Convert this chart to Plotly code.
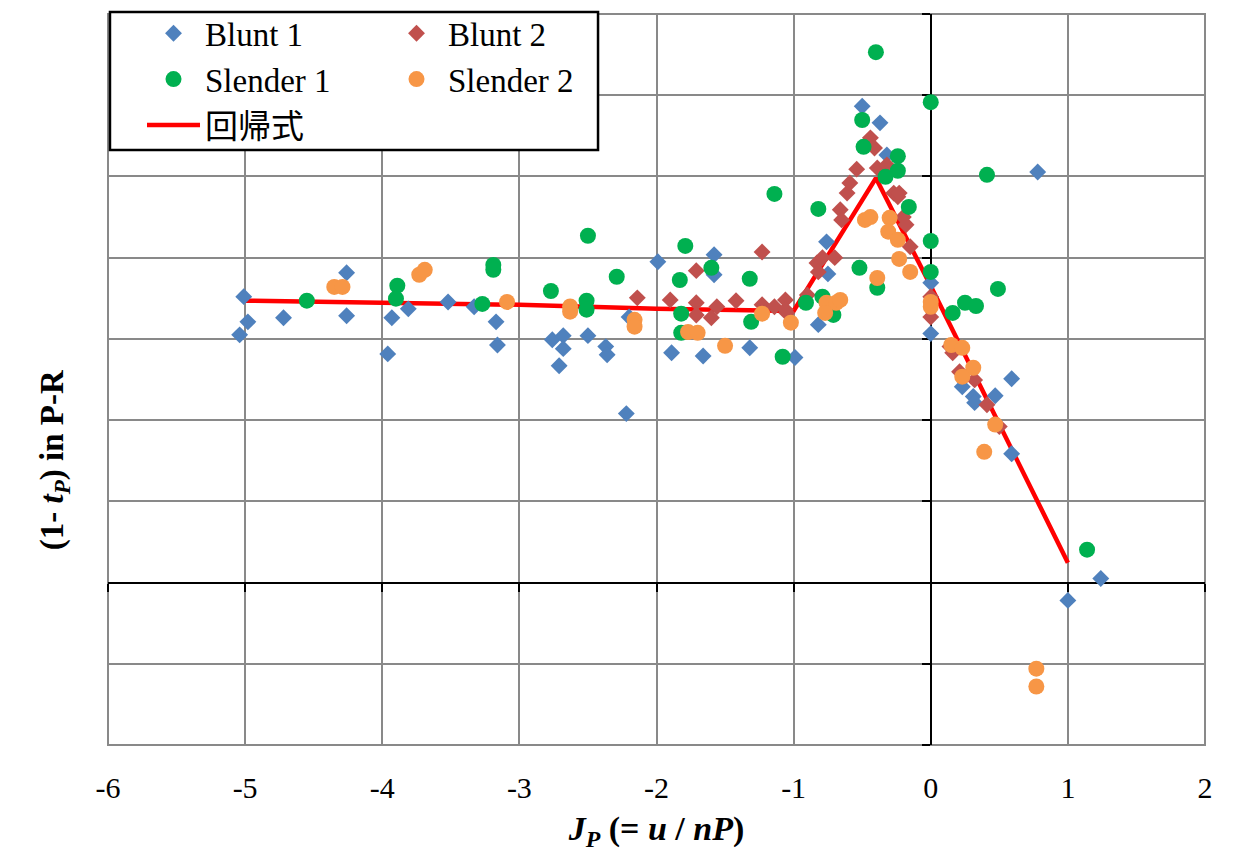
import plotly.graph_objects as go

# ---------------- data ----------------
blunt1_x = [-5.04, -5.01, -4.98, -4.72, -4.26, -4.26, -3.96, -3.93, -3.81, -3.52, -3.33, -3.17, -3.16,
            -2.76, -2.68, -2.71, -2.68, -2.50, -2.37, -2.36, -2.22, -2.20, -1.99, -1.89, -1.66, -1.58,
            -1.58, -1.32, -0.99, -0.82, -0.76, -0.75, -0.50, -0.37, -0.32, 0.00, 0.00, 0.23, 0.31,
            0.32, 0.47, 0.59, 0.59, 0.78, 1.00, 1.24]
blunt1_y = [0.610, 0.704, 0.642, 0.652, 0.763, 0.657, 0.563, 0.652, 0.674, 0.691, 0.679, 0.642, 0.585,
            0.598, 0.608, 0.534, 0.576, 0.608, 0.581, 0.561, 0.416, 0.654, 0.790, 0.566, 0.558, 0.807,
            0.758, 0.578, 0.554, 0.635, 0.839, 0.760, 1.173, 1.132, 1.053, 0.738, 0.613, 0.482, 0.458,
            0.443, 0.460, 0.502, 0.317, 1.011, -0.044, 0.010]

blunt2_x = [-2.14, -1.90, -1.71, -1.71, -1.71, -1.60, -1.56, -1.42, -1.23, -1.23, -1.14, -1.06, -1.05,
            -1.06, -0.90, -0.83, -0.79, -0.70, -0.82, -0.66, -0.65, -0.61, -0.59, -0.54, -0.44, -0.41,
            -0.39, -0.32, -0.27, -0.24, -0.23, -0.20, -0.18, -0.15, 0.00, 0.00, 0.14, 0.16, 0.21, 0.32,
            0.41, 0.50]
blunt2_y = [0.701, 0.696, 0.768, 0.689, 0.659, 0.652, 0.679, 0.694, 0.814, 0.684, 0.679, 0.696, 0.664,
            0.672, 0.708, 0.787, 0.800, 0.800, 0.765, 0.918, 0.893, 0.959, 0.984, 1.018, 1.095, 1.070,
            1.021, 1.028, 0.959, 0.950, 0.959, 0.900, 0.881, 0.827, 0.704, 0.654, 0.581, 0.566, 0.519,
            0.499, 0.438, 0.384]

slender1_x = [-4.55, -3.89, -3.90, -3.19, -3.19, -3.27, -2.77, -2.50, -2.51, -2.51, -2.29, -1.79, -1.83,
              -1.82, -1.82, -1.60, -1.32, -1.31, -1.14, -1.08, -0.91, -0.82, -0.79, -0.71, -0.40, 0.00,
              -0.50, -0.49, -0.24, -0.24, -0.33, -0.16, -0.52, -0.39, 0.00, 0.00, 0.41, 0.49, 0.25, 0.33,
              0.16, 1.14]
slender1_y = [0.694, 0.731, 0.699, 0.782, 0.770, 0.686, 0.718, 0.854, 0.694, 0.672, 0.753, 0.829, 0.745,
              0.662, 0.615, 0.775, 0.748, 0.642, 0.957, 0.556, 0.689, 0.920, 0.704, 0.659, 1.306, 1.183,
              1.139, 1.073, 1.050, 1.014, 0.999, 0.925, 0.775, 0.726, 0.841, 0.765, 1.004, 0.723, 0.689,
              0.681, 0.664, 0.081]

slender2_x = [-4.35, -4.29, -3.73, -3.69, -3.09, -2.63, -2.63, -2.16, -2.16, -1.77, -1.70, -1.50, -1.23,
              -1.02, -0.76, -0.69, -0.77, -0.66, -0.48, -0.44, -0.30, -0.31, -0.24, -0.23, -0.15, -0.39,
              0.00, 0.00, 0.15, 0.23, 0.31, 0.23, 0.47, 0.39, 0.77, 0.77]
slender2_y = [0.728, 0.728, 0.758, 0.770, 0.691, 0.680, 0.667, 0.647, 0.630, 0.617, 0.615, 0.583, 0.662,
              0.640, 0.689, 0.689, 0.664, 0.696, 0.893, 0.900, 0.898, 0.864, 0.844, 0.797, 0.765, 0.750,
              0.691, 0.679, 0.585, 0.578, 0.529, 0.507, 0.389, 0.322, -0.212, -0.256]

reg_x = [-5.0, -4.0, -3.0, -2.0, -1.0, -0.4, 0.0, 1.0]
reg_y = [0.694, 0.689, 0.684, 0.674, 0.669, 0.996, 0.730, 0.049]

x_ticks = [-6, -5, -4, -3, -2, -1, 0, 1, 2]
x_tick_text = ["-6", "-5", "-4", "-3", "-2", "-1", "0", "1", "2"]
y_grid = [-0.4, -0.2, 0.0, 0.2, 0.4, 0.6, 0.8, 1.0, 1.2, 1.4]

# ---------------- styles ----------------
SERIF = "Liberation Serif, Times New Roman, Noto Sans CJK JP, serif"
C_B1, C_B2, C_S1, C_S2, C_REG = "#4F81BD", "#C0504D", "#00B050", "#F79646", "#FF0000"
GRID = "#898989"

fig = go.Figure()

fig.add_trace(go.Scatter(x=reg_x, y=reg_y, mode="lines", name="回帰式",
                         line=dict(color=C_REG, width=4.5), legendgroup="a", legendrank=3))
fig.add_trace(go.Scatter(x=blunt1_x, y=blunt1_y, mode="markers", name="Blunt 1",
                         marker=dict(symbol="diamond", size=13, color=C_B1),
                         legendgroup="a", legendrank=1))
fig.add_trace(go.Scatter(x=blunt2_x, y=blunt2_y, mode="markers", name="Blunt 2",
                         marker=dict(symbol="diamond", size=13, color=C_B2),
                         legendgroup="b", legendrank=4))
fig.add_trace(go.Scatter(x=slender1_x, y=slender1_y, mode="markers", name="Slender 1",
                         marker=dict(symbol="circle", size=16, color=C_S1),
                         legendgroup="a", legendrank=2))
fig.add_trace(go.Scatter(x=slender2_x, y=slender2_y, mode="markers", name="Slender 2",
                         marker=dict(symbol="circle", size=16, color=C_S2),
                         legendgroup="b", legendrank=5))
# empty trace to activate the overlay axes (zero-crossing axes with ticks)
fig.add_trace(go.Scatter(x=[None], y=[None], xaxis="x2", yaxis="y2", showlegend=False,
                         hoverinfo="skip"))

fig.update_layout(
    width=1235, height=852,
    margin=dict(l=108, r=30, t=14, b=107, autoexpand=False),
    paper_bgcolor="white", plot_bgcolor="white",
    font=dict(family=SERIF, color="black"),
    showlegend=True,
    legend=dict(
        orientation="h", x=0.031, y=1.012, xanchor="left", yanchor="top",
        bgcolor="rgba(0,0,0,0)", borderwidth=0,
        font=dict(family=SERIF, size=33, color="black"),
        entrywidth=175, tracegroupgap=0, itemclick=False, itemwidth=53,
    ),
    xaxis=dict(
        range=[-6, 2], tickmode="array", tickvals=x_ticks, ticktext=x_tick_text,
        showgrid=True, gridcolor=GRID, gridwidth=2, zeroline=False, automargin=False,
        showline=False, ticks="", ticklabelstandoff=22,
        tickfont=dict(family=SERIF, size=30, color="black"),
        title=dict(text="<b><i>J<sub>P</sub></i> (= <i>u</i> / <i>nP</i>)</b>",
                   font=dict(family=SERIF, size=34, color="black"), standoff=15),
    ),
    yaxis=dict(
        range=[-0.4, 1.4], tickmode="array", tickvals=y_grid, showticklabels=False,
        showgrid=True, gridcolor=GRID, gridwidth=2, zeroline=False, showline=False, ticks="",
        automargin=False,
    ),
    xaxis2=dict(
        overlaying="x", range=[-6, 2], anchor="free", position=0.4 / 1.8,
        tickmode="array", tickvals=x_ticks, showticklabels=False,
        ticks="outside", ticklen=8, tickwidth=2, tickcolor="black",
        showline=True, linecolor="black", linewidth=2, showgrid=False, zeroline=False,
        layer="below traces", fixedrange=True, automargin=False,
    ),
    yaxis2=dict(
        overlaying="y", range=[-0.4, 1.4], anchor="free", position=0.75, side="left",
        tickmode="array", tickvals=y_grid, showticklabels=False,
        ticks="outside", ticklen=8, tickwidth=2, tickcolor="black",
        showline=True, linecolor="black", linewidth=2, showgrid=False, zeroline=False,
        layer="below traces", fixedrange=True, automargin=False,
    ),
    shapes=[
        dict(type="rect", xref="paper", yref="paper", x0=0, y0=0, x1=1, y1=1,
             line=dict(color=GRID, width=2), layer="below"),
        # legend frame
        dict(type="rect", xref="paper", yref="paper", x0=0.0018, x1=0.4467,
             y0=0.814, y1=1.0027, fillcolor="white",
             line=dict(color="black", width=2.5), layer="above"),
    ],
    annotations=[
        dict(text="<b>(1- <i>t<sub>P</sub></i>) in P-R</b>", textangle=-90,
             xref="paper", yref="paper", x=-0.048, y=0.39, xanchor="center", yanchor="middle",
             showarrow=False, font=dict(family=SERIF, size=33, color="black")),
    ],
)

fig.write_html("out.html")
